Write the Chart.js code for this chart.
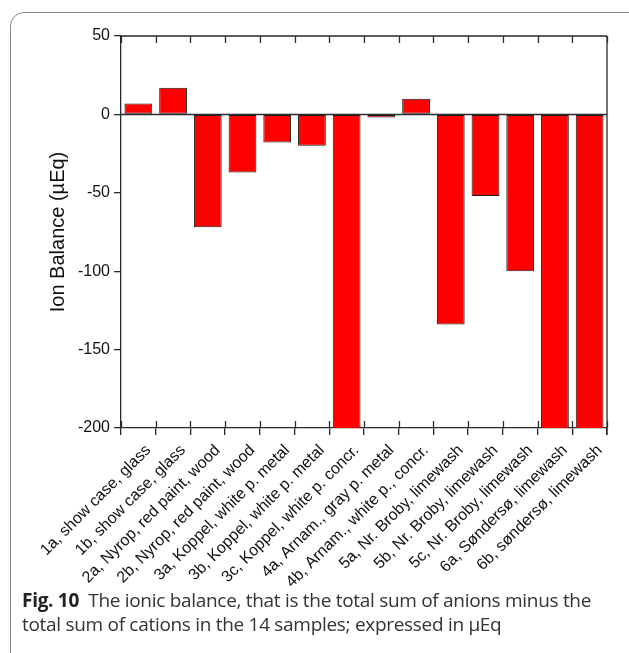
<!DOCTYPE html>
<html>
<head>
<meta charset="utf-8">
<script src="https://cdn.jsdelivr.net/npm/chart.js@4/dist/chart.umd.min.js"></script>
<style>
  html, body { margin: 0; padding: 0; background: #fff; }
  body { width: 629px; height: 653px; position: relative; overflow: hidden; }
  #frame {
    position: absolute; left: 10px; top: 12px; width: 660px; height: 680px;
    border: 1px solid #8a8a8a; border-radius: 14px; box-sizing: border-box;
  }
  #wrap { position: absolute; left: 0; top: 0; width: 629px; height: 600px; }
  #caption {
    position: absolute; left: 22px; top: 588px; width: 600px;
    font-family: "Open Sans", "Noto Sans", sans-serif; font-size: 19px;
    line-height: 24px; color: #333; letter-spacing: -0.3px;
  }
  #caption b { font-weight: 700; color: #222; }
</style>
</head>
<body>
<div id="frame"></div>
<div id="wrap"><canvas id="chart" width="629" height="600"></canvas></div>
<div id="caption"><b>Fig. 10</b>&nbsp; The ionic balance, that is the total sum of anions minus the total sum of cations in the 14 samples; expressed in µEq</div>
<script>
// Sample names along the horizontal axis
const categories = [
  "1a, show case, glass",
  "1b, show case, glass",
  "2a, Nyrop, red paint, wood",
  "2b, Nyrop, red paint, wood",
  "3a, Koppel, white p. metal",
  "3b, Koppel, white p. metal",
  "3c, Koppel, white p. concr.",
  "4a, Arnam., gray p. metal",
  "4b, Arnam., white p., concr.",
  "5a, Nr. Broby, limewash",
  "5b, Nr. Broby, limewash",
  "5c, Nr. Broby, limewash",
  "6a, Søndersø, limewash",
  "6b, søndersø, limewash"
];

// Ion balance per sample (µEq); 3c, 6a and 6b run below the axis floor
const ionBalance = [7, 17, -72, -37, -18, -20, -215, -2, 10, -134, -52, -100, -230, -220];

// Value axis
const yTicks = [50, 0, -50, -100, -150, -200];
const yMin = -200, yMax = 50;

const axisColor = "#2a2a2a";

// Frame, zero line and the inward / crossing tick marks
const framePlugin = {
  id: "frame",
  afterDatasetsDraw(chart) {
    const { ctx, chartArea: a, scales: { x, y } } = chart;
    ctx.save();
    ctx.strokeStyle = axisColor;
    ctx.lineWidth = 1.3;
    const y0 = Math.round(y.getPixelForValue(0)) + 0.5;
    ctx.beginPath();
    ctx.moveTo(a.left, y0); ctx.lineTo(a.right, y0);
    ctx.moveTo(a.left, a.top); ctx.lineTo(a.right, a.top);
    ctx.moveTo(a.right, a.top); ctx.lineTo(a.right, a.bottom + 7);
    const n = categories.length;
    const step = (x.getPixelForValue(1) - x.getPixelForValue(0));
    for (let i = 0; i <= n; i++) {
      const px = Math.round(x.getPixelForValue(i) - step / 2) + 0.5;
      ctx.moveTo(px, a.top); ctx.lineTo(px, a.top + 7);
      ctx.moveTo(px, a.bottom); ctx.lineTo(px, a.bottom - 7);
    }
    ctx.stroke();
    ctx.restore();
  }
};

new Chart(document.getElementById("chart"), {
  type: "bar",
  data: {
    labels: categories,
    datasets: [{
      data: ionBalance,
      backgroundColor: "#ff0000",
      borderColor: "#1a1a1a",
      borderWidth: 1,
      borderSkipped: false,
      barPercentage: 0.8,
      categoryPercentage: 1.0,
      clip: 0
    }]
  },
  options: {
    responsive: false,
    animation: false,
    devicePixelRatio: 1,
    layout: { padding: { top: 36, right: 22, left: 0, bottom: 0 } },
    plugins: { legend: { display: false }, tooltip: { enabled: false } },
    scales: {
      x: {
        offset: true,
        grid: { display: true, offset: true, drawOnChartArea: false, drawTicks: true, tickLength: 7, color: axisColor, lineWidth: 1.3 },
        border: { display: true, color: axisColor, width: 1.3 },
        ticks: {
          minRotation: 45, maxRotation: 45, autoSkip: false, padding: 6, labelOffset: 10,
          color: "#111", font: { family: "Liberation Sans, Arial, sans-serif", size: 16 }
        },
        afterFit(scale) { scale.height = 172; }
      },
      y: {
        min: yMin, max: yMax,
        afterBuildTicks(scale) { scale.ticks = yTicks.map(v => ({ value: v })); },
        grid: { display: true, drawOnChartArea: false, drawTicks: true, tickLength: 7, color: axisColor, lineWidth: 1.3 },
        border: { display: true, color: axisColor, width: 1.3 },
        ticks: {
          padding: 4, color: "#111",
          font: { family: "Liberation Sans, Arial, sans-serif", size: 16 }
        },
        title: {
          display: true, text: "Ion Balance (µEq)", color: "#111",
          font: { family: "Liberation Sans, Arial, sans-serif", size: 20 },
          padding: { top: 46, bottom: 0 }
        },
        afterFit(scale) { scale.width = 121; }
      }
    }
  },
  plugins: [framePlugin]
});
</script>
</body>
</html>
